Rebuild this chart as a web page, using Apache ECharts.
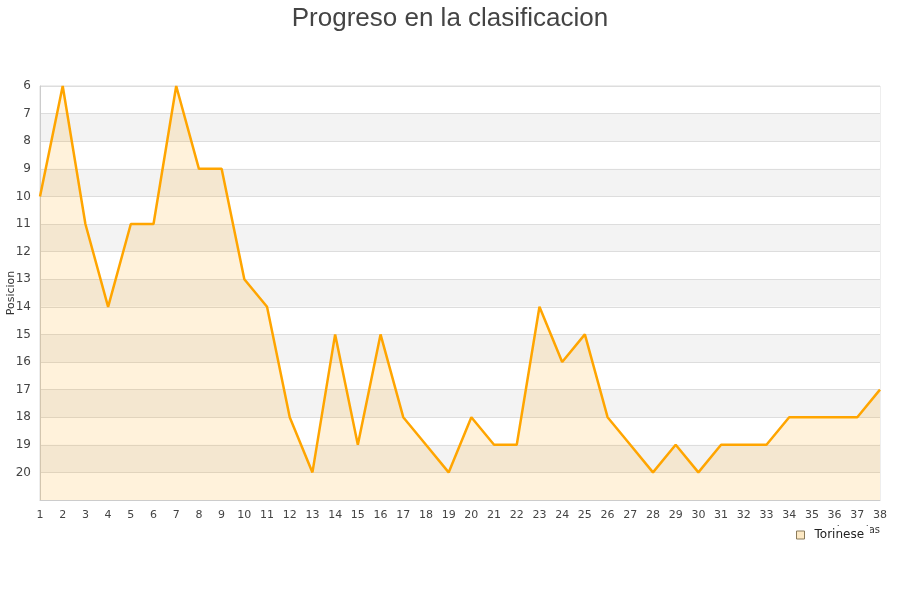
<!DOCTYPE html>
<html><head><meta charset="utf-8">
<script src="https://cdn.jsdelivr.net/npm/echarts@6/dist/echarts.min.js"></script>
<style>html,body{margin:0;padding:0;background:#fff}#c{width:900px;height:600px}</style>
</head><body><div id="c"></div>
<script>
const title = 'Progreso en la clasificacion';
const seriesName = 'Torinese';
const jornadas = [1,2,3,4,5,6,7,8,9,10,11,12,13,14,15,16,17,18,19,20,21,22,23,24,25,26,27,28,29,30,31,32,33,34,35,36,37,38];
const posiciones = [10,6,11,14,11,11,6,9,9,13,14,18,20,15,19,15,18,19,20,18,19,19,14,16,15,18,19,20,19,20,19,19,19,18,18,18,18,17];
const yName = 'Posicion';
const xName = 'Jornadas';

const chart = echarts.init(document.getElementById('c'));
chart.setOption({
  animation: false,
  backgroundColor: '#fff',
  title: { text: title, left: 'center', top: 1,
    textStyle: { fontFamily: 'Liberation Sans', fontSize: 26, fontWeight: 'normal', color: '#444' } },
  grid: { left: 40, right: 20, top: 86, bottom: 100, show: true, borderColor: '#ddd', borderWidth: 1,
    containLabel: false, outerBoundsMode: 'none' },
  legend: { left: 791, top: 526, backgroundColor: '#fff', padding: [3, 6, 4, 5],
    icon: 'rect', itemWidth: 8, itemHeight: 8, itemGap: 8,
    textStyle: { fontFamily: 'DejaVu Sans', fontSize: 12, color: '#222', padding: [0, 0, 0, 5] },
    data: [{ name: seriesName, itemStyle: { color: '#fde9c4', borderColor: '#8a7a5a', borderWidth: 1 } }] },
  xAxis: { type: 'value', min: 1, max: 38, interval: 1, name: xName,
    nameLocation: 'end', nameGap: 0, nameMoveOverlap: false,
    nameTextStyle: { fontFamily: 'DejaVu Sans', fontSize: 10, color: '#333', align: 'right', verticalAlign: 'top', padding: [25, 0, 0, 0] },
    axisLine: { lineStyle: { color: '#ccc' } }, axisTick: { show: false },
    splitLine: { show: false },
    axisLabel: { fontFamily: 'DejaVu Sans', fontSize: 11, color: '#444', margin: 10 } },
  yAxis: { type: 'value', inverse: true, min: 6, max: 21, interval: 1,
    name: yName, nameLocation: 'middle', nameGap: 23, nameRotate: 90, nameMoveOverlap: false,
    nameTextStyle: { fontFamily: 'DejaVu Sans', fontSize: 11, color: '#333' },
    axisLine: { show: true, lineStyle: { color: '#ccc' } }, axisTick: { show: false },
    axisLabel: { fontFamily: 'DejaVu Sans', fontSize: 12, color: '#444', margin: 9,
      formatter: v => v === 21 ? '' : String(v) },
    splitLine: { show: true, lineStyle: { color: '#ddd' } },
    splitArea: { show: true, areaStyle: { color: ['#ffffff', '#f3f3f3'] } } },
  series: [{
    name: seriesName, type: 'line',
    data: jornadas.map((j, i) => [j, posiciones[i]]),
    symbol: 'none', color: '#ffa500',
    lineStyle: { color: '#ffa500', width: 2.5 },
    areaStyle: { color: 'rgba(255,165,0,0.2)', origin: 'end' }
  }]
});
</script></body></html>
